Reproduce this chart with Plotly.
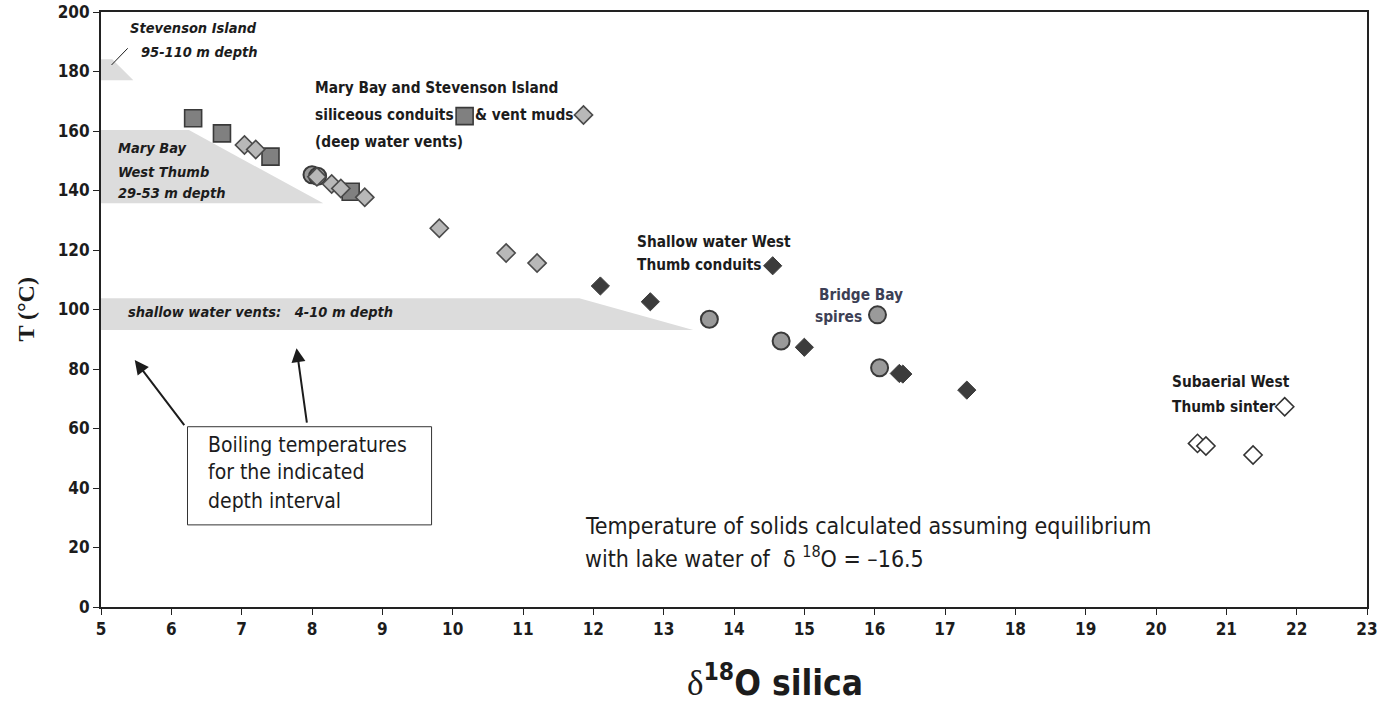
import plotly.graph_objects as go

# ---------------- data ----------------
# Mary Bay & Stevenson Island siliceous conduits (dark squares)
conduit_x = [6.31, 6.72, 7.41, 8.55]
conduit_y = [164.3, 159.2, 151.4, 139.6]
# Mary Bay & Stevenson Island vent muds (light diamonds)
mud_x = [7.04, 7.20, 8.07, 8.28, 8.41, 8.75, 9.81, 10.76, 11.20]
mud_y = [155.3, 153.8, 144.6, 142.2, 140.7, 137.7, 127.3, 119.0, 115.6]
# Bridge Bay spires (circles)
spire_x = [8.00, 8.08, 13.65, 14.67, 16.07]
spire_y = [145.3, 144.8, 96.7, 89.4, 80.4]
# Shallow water West Thumb conduits (dark diamonds)
shallow_x = [12.10, 12.81, 15.00, 16.35, 16.40, 17.31]
shallow_y = [107.9, 102.6, 87.3, 78.5, 78.3, 72.9]
# Subaerial West Thumb sinter (open diamonds)
sinter_x = [20.59, 20.71, 21.38]
sinter_y = [55.0, 54.1, 51.1]

# key symbols written inside the labels
key_conduit = (10.17, 165.0)
key_mud = (11.86, 165.4)
key_shallow = (14.55, 114.7)
key_spire = (16.04, 98.2)
key_sinter = (21.83, 67.3)

# boiling temperature bands (delta18O, T)
band_stevenson_x = [5.0, 5.16, 5.46, 5.0]
band_stevenson_y = [184.1, 184.1, 177.1, 177.1]
band_marybay_x = [5.0, 6.25, 8.16, 5.0]
band_marybay_y = [160.3, 160.3, 135.7, 135.7]
band_shallow_x = [5.0, 11.8, 13.42, 5.0]
band_shallow_y = [103.8, 103.8, 93.1, 93.1]

x_ticks = list(range(5, 24))
y_ticks = list(range(0, 201, 20))

NARROW = "Liberation Sans Narrow, Arial Narrow, DejaVu Sans Condensed, sans-serif"
INK = "#1c1c1c"

fig = go.Figure()


def poly(xs, ys):
    p = "M " + " L ".join(f"{a},{b}" for a, b in zip(xs, ys)) + " Z"
    return dict(type="path", path=p, xref="x", yref="y", fillcolor="#dcdcdc",
                line=dict(width=0), layer="below")


shapes = [poly(band_stevenson_x, band_stevenson_y),
          poly(band_marybay_x, band_marybay_y),
          poly(band_shallow_x, band_shallow_y)]
# pointer line for the Stevenson Island label
shapes.append(dict(type="line", xref="x", yref="y", x0=5.15, y0=182.2, x1=5.38, y1=187.8,
                   line=dict(color=INK, width=1)))
# box around the boiling-temperature note
shapes.append(dict(type="rect", xref="x", yref="y", x0=6.23, x1=9.70, y0=27.6, y1=60.6,
                   line=dict(color="#333333", width=1), fillcolor="white"))

sq = dict(symbol="square", size=17, color="#808080", line=dict(color="#3a3a3a", width=1.6))
lt = dict(symbol="diamond", size=14, color="#b8b8b8", line=dict(color="#4a4a4a", width=1.6))
ci = dict(symbol="circle", size=17, color="#9a9a9a", line=dict(color="#3a3a3a", width=2))
dk = dict(symbol="diamond", size=14, color="#3c3c3c", line=dict(color="#3c3c3c", width=1))
op = dict(symbol="diamond", size=14, color="white", line=dict(color="#333333", width=1.6))

fig.add_trace(go.Scatter(x=conduit_x, y=conduit_y, mode="markers", marker=sq, name="conduits"))
fig.add_trace(go.Scatter(x=spire_x, y=spire_y, mode="markers", marker=ci, name="spires"))
fig.add_trace(go.Scatter(x=mud_x, y=mud_y, mode="markers", marker=lt, name="vent muds"))
fig.add_trace(go.Scatter(x=shallow_x, y=shallow_y, mode="markers", marker=dk, name="shallow conduits"))
fig.add_trace(go.Scatter(x=sinter_x, y=sinter_y, mode="markers", marker=op, name="sinter"))
for k, m in [(key_conduit, sq), (key_mud, lt), (key_shallow, dk), (key_spire, ci), (key_sinter, op)]:
    fig.add_trace(go.Scatter(x=[k[0]], y=[k[1]], mode="markers", marker=m, hoverinfo="skip"))

ann = []


def label(text, x, y, size=15.3, italic=False, color=INK, family=NARROW, bold=True):
    t = text
    if bold:
        t = f"<b>{t}</b>"
    if italic:
        t = f"<i>{t}</i>"
    ann.append(dict(text=t, x=x, y=y, xref="x", yref="y", xanchor="left", yanchor="middle",
                    showarrow=False, font=dict(family=family, size=size, color=color)))


IT = 14.5
label("Stevenson Island", 5.38, 194.6, size=IT, italic=True)
label("95-110 m depth", 5.54, 186.6, size=IT, italic=True)
label("Mary Bay", 5.22, 154.2, size=IT, italic=True)
label("West Thumb", 5.22, 146.3, size=IT, italic=True)
label("29-53 m depth", 5.22, 139.0, size=IT, italic=True)
label("Mary Bay and Stevenson Island", 8.01, 174.5)
label("siliceous conduits", 8.01, 165.4)
label("& vent muds", 10.29, 165.4)
label("(deep water vents)", 8.01, 156.4)
label("shallow water vents:&nbsp;&nbsp; 4-10 m depth", 5.36, 99.3, size=IT, italic=True)
label("Shallow water West", 12.59, 122.8)
label("Thumb conduits", 12.59, 115.0)
label("Bridge Bay", 15.18, 104.9, color="#3d3f55")
label("spires", 15.12, 97.6, color="#3d3f55")
label("Subaerial West", 20.20, 75.7)
label("Thumb sinter", 20.20, 67.3)
label("Temperature of solids calculated assuming equilibrium", 11.85, 27.2, size=23, bold=False)
label("with lake water of&nbsp; δ <sup>18</sup>O = –16.5", 11.85, 16.8, size=23, bold=False)
label("Boiling temperatures", 6.49, 54.3, size=21, bold=False)
label("for the indicated", 6.49, 45.3, size=21, bold=False)
label("depth interval", 6.49, 35.8, size=21, bold=False)

# arrows from the note box to the bands
for (tx, ty, hx, hy) in [(6.20, 60.6, 5.48, 83.0), (7.93, 61.5, 7.78, 87.0)]:
    ann.append(dict(x=hx, y=hy, ax=tx, ay=ty, xref="x", yref="y", axref="x", ayref="y",
                    showarrow=True, arrowhead=2, arrowsize=1.4, arrowwidth=2,
                    arrowcolor=INK, text=""))

# axis titles
ann.append(dict(text="<span style='font-family:Liberation Serif;font-weight:normal'>δ</span>"
                     "<b><sup>18</sup>O silica</b>",
                x=0.532, y=-0.1227, xref="paper", yref="paper", xanchor="center",
                yanchor="middle", showarrow=False,
                font=dict(family=NARROW, size=35, color=INK)))
ann.append(dict(text="<b>T (°C)</b>", x=-0.060, y=0.5, xref="paper", yref="paper",
                textangle=-90, xanchor="center", yanchor="middle", showarrow=False,
                font=dict(family="Liberation Serif, Times New Roman, serif", size=24, color=INK)))

axis_common = dict(showline=True, linecolor="#222222", linewidth=2, mirror=True,
                   ticks="outside", ticklen=6, tickwidth=1, tickcolor="#222222",
                   showgrid=False, zeroline=False, automargin=False,
                   tickfont=dict(family=NARROW, size=17, color=INK))

fig.update_layout(
    width=1385, height=706,
    margin=dict(l=101, r=18, t=12, b=99),
    paper_bgcolor="white", plot_bgcolor="white",
    showlegend=False,
    shapes=shapes, annotations=ann,
    xaxis=dict(range=[5, 23], tickvals=x_ticks, ticktext=[f"<b>{v}</b>" for v in x_ticks],
               **axis_common),
    yaxis=dict(range=[0, 200], tickvals=y_ticks, ticktext=[f"<b>{v}</b>" for v in y_ticks],
               **axis_common),
)

fig.write_html("out.html", config={"displayModeBar": False},
               post_script="document.body.style.margin='0';document.body.style.overflow='hidden';")
